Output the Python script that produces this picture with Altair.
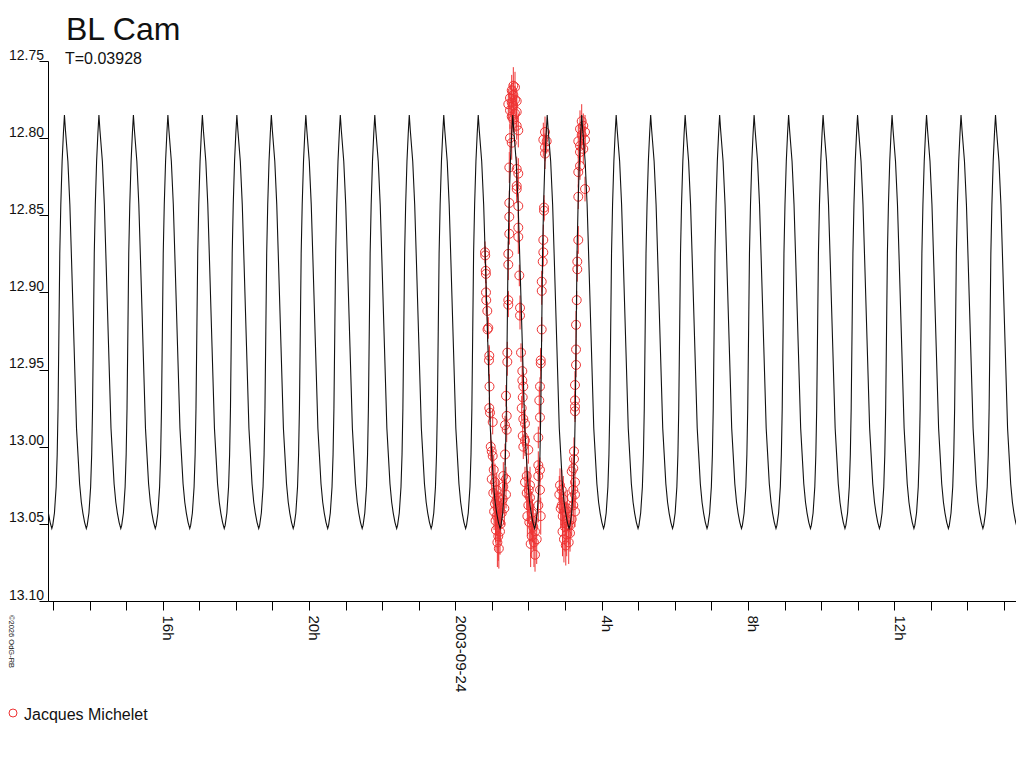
import altair as alt
import pandas as pd

FONT = "Liberation Sans"
RED = "#ee3333"
INK = "#111111"

STAR = "BL Cam"
PERIOD_LABEL = "T=0.03928"
PERIOD_DAYS = 0.03928
OBSERVER = "Jacques Michelet"
CREDIT = "\u00a92026 OdG-RB"
DATE_LABEL = "2003-09-24"

# Model light curve: one cycle (phase 0 = maximum light)
tpl_phase = [0.000, 0.030, 0.100, 0.157, 0.206, 0.280, 0.350, 0.390, 0.440, 0.490,
             0.535, 0.585, 0.634, 0.660, 0.710, 0.760, 0.790, 0.815, 0.840, 0.865,
             0.895, 0.933, 0.970]
tpl_mag = [12.785, 12.795, 12.815, 12.843, 12.879, 12.935, 12.988, 13.004, 13.024, 13.036,
           13.043, 13.049, 13.053, 13.051, 13.043, 13.026, 13.005, 12.975, 12.925, 12.875,
           12.843, 12.815, 12.797]
MAX_EPOCH_H = 0.627          # a maximum, hours after 2003-09-24 00:00 UT
CYCLES = list(range(-13, 17))

# Observations (hours after 2003-09-24 00:00 UT, magnitude, error)
obs_time = [
    # cycle A: falling branch and minimum
    0.812, 0.818, 0.831, 0.836, 0.839, 0.846, 0.875, 0.880, 0.902, 0.921,
    0.929, 0.935, 0.929, 0.949, 0.968, 0.995, 1.022, 1.022, 0.995, 1.039,
    1.085, 1.085, 1.113, 1.132, 1.132, 1.175, 1.175, 1.203, 1.222, 1.222,
    1.268, 1.060, 1.100, 1.150, 1.190, 1.240, 1.160, 1.050, 1.120,
    # cycle A: rising branch
    1.296, 1.312, 1.312, 1.340, 1.359, 1.359, 1.386, 1.386, 1.386, 1.405,
    1.405, 1.422, 1.422, 1.449, 1.449, 1.449, 1.449, 1.476, 1.476, 1.476,
    1.476, 1.495, 1.542,
    # maximum
    1.449, 1.495, 1.495, 1.542, 1.542, 1.542, 1.586, 1.586, 1.586, 1.586,
    1.632, 1.632, 1.632, 1.678, 1.678, 1.678, 1.722,
    # cycle B: falling branch and minimum
    1.678, 1.722, 1.678, 1.678, 1.722, 1.722, 1.722, 1.750, 1.769, 1.769,
    1.796, 1.832, 1.832, 1.859, 1.843, 1.815, 1.859, 1.905, 1.843, 1.905,
    1.859, 1.996, 1.952, 1.905, 2.042, 1.952, 2.042, 1.996, 2.089, 2.023,
    2.132, 2.089, 2.179, 2.225, 2.179, 1.970, 2.060, 2.110, 2.150, 2.010,
    # cycle B: rising branch
    2.269, 2.335, 2.315, 2.269, 2.315, 2.269, 2.269, 2.315, 2.296, 2.315,
    2.335, 2.335, 2.362, 2.362, 2.362, 2.389, 2.406, 2.406, 2.425, 2.425,
    2.452, 2.452, 2.498, 2.406, 2.452,
    # cycle C: minimum
    2.843, 2.862, 2.909, 2.909, 2.936, 2.952, 2.999, 2.999, 3.045, 3.045,
    3.089, 3.136, 2.880, 2.970, 3.020, 3.100, 2.930, 3.060,
    # cycle C: rising branch and maximum
    3.136, 3.182, 3.182, 3.182, 3.226, 3.226, 3.226, 3.245, 3.245, 3.272,
    3.272, 3.272, 3.272, 3.272, 3.272, 3.272, 3.300, 3.300, 3.300, 3.319,
    3.335, 3.335, 3.362, 3.362, 3.362, 3.362, 3.409, 3.409, 3.409, 3.409,
    3.455, 3.455, 3.499, 3.499, 3.546, 3.546, 3.546,
]
obs_mag = [
    12.874, 12.876, 12.886, 12.888, 12.900, 12.905, 12.912, 12.924, 12.923, 12.944,
    12.941, 12.961, 12.975, 12.978, 13.000, 13.003, 12.984, 13.006, 13.021, 13.030,
    13.023, 13.037, 13.054, 13.028, 13.045, 13.033, 13.058, 13.049, 13.040, 13.055,
    13.043, 13.042, 13.048, 13.062, 13.066, 13.050, 13.040, 13.015, 13.035,
    13.034, 13.026, 13.019, 13.040, 13.005, 12.986, 13.021, 13.031, 12.967, 12.989,
    12.980, 12.945, 12.939, 12.908, 12.905, 12.882, 12.875, 12.862, 12.851, 12.842,
    12.819, 12.800, 12.803,
    12.778, 12.782, 12.774, 12.786, 12.777, 12.769, 12.766, 12.772, 12.779, 12.788,
    12.767, 12.775, 12.784, 12.776, 12.783, 12.792, 12.795,
    12.820, 12.823, 12.831, 12.833, 12.844, 12.858, 12.864, 12.889, 12.910, 12.915,
    12.939, 12.951, 12.957, 12.961, 12.968, 12.975, 12.982, 12.985, 12.993, 12.996,
    13.000, 13.002, 13.019, 13.023, 13.025, 13.030, 13.033, 13.038, 13.043, 13.049,
    13.052, 13.058, 13.055, 13.060, 13.070, 13.045, 13.063, 13.048, 13.062, 13.028,
    13.038, 13.045, 13.028, 13.019, 13.015, 13.012, 12.994, 12.981, 12.970, 12.961,
    12.946, 12.944, 12.924, 12.899, 12.893, 12.880, 12.874, 12.866, 12.847, 12.845,
    12.810, 12.806, 12.802, 12.801, 12.796,
    13.031, 13.025, 13.028, 13.038, 13.045, 13.034, 13.042, 13.052, 13.048, 13.057,
    13.051, 13.056, 13.040, 13.060, 13.064, 13.062, 13.055, 13.040,
    13.051, 13.047, 13.033, 13.016, 13.028, 13.038, 13.014, 13.003, 13.008, 13.042,
    13.031, 13.023, 12.977, 12.974, 12.970, 12.960, 12.947, 12.937, 12.921, 12.905,
    12.885, 12.880, 12.866, 12.838, 12.822, 12.802, 12.818, 12.809, 12.805, 12.794,
    12.798, 12.789, 12.807, 12.792, 12.801, 12.796, 12.833,
]
obs_err = [
    0.007, 0.006, 0.008, 0.006, 0.007, 0.009, 0.006, 0.008, 0.007, 0.010,
    0.006, 0.008, 0.007, 0.006, 0.009, 0.007, 0.008, 0.006, 0.010, 0.009,
    0.012, 0.010, 0.014, 0.011, 0.013, 0.012, 0.016, 0.013, 0.011, 0.015,
    0.010, 0.012, 0.014, 0.016, 0.013, 0.012, 0.011, 0.009, 0.012,
    0.010, 0.008, 0.009, 0.011, 0.007, 0.006, 0.008, 0.009, 0.007, 0.008,
    0.006, 0.009, 0.007, 0.008, 0.006, 0.010, 0.008, 0.007, 0.009, 0.008,
    0.010, 0.009, 0.011,
    0.010, 0.012, 0.009, 0.011, 0.013, 0.010, 0.012, 0.009, 0.011, 0.008,
    0.010, 0.009, 0.012, 0.008, 0.010, 0.009, 0.011,
    0.008, 0.010, 0.007, 0.009, 0.008, 0.010, 0.011, 0.007, 0.008, 0.009,
    0.006, 0.010, 0.008, 0.009, 0.007, 0.008, 0.006, 0.009, 0.007, 0.010,
    0.008, 0.009, 0.011, 0.010, 0.012, 0.011, 0.013, 0.012, 0.014, 0.013,
    0.015, 0.014, 0.012, 0.016, 0.011, 0.013, 0.015, 0.014, 0.016, 0.012,
    0.011, 0.012, 0.009, 0.010, 0.008, 0.009, 0.007, 0.008, 0.009, 0.006,
    0.010, 0.007, 0.008, 0.009, 0.007, 0.008, 0.009, 0.010, 0.007, 0.008,
    0.010, 0.009, 0.008, 0.011, 0.010,
    0.012, 0.011, 0.013, 0.014, 0.012, 0.015, 0.013, 0.016, 0.012, 0.014,
    0.013, 0.012, 0.011, 0.015, 0.013, 0.014, 0.016, 0.012,
    0.012, 0.011, 0.010, 0.009, 0.011, 0.012, 0.008, 0.009, 0.007, 0.010,
    0.009, 0.008, 0.007, 0.008, 0.006, 0.009, 0.008, 0.007, 0.009, 0.006,
    0.008, 0.007, 0.009, 0.008, 0.010, 0.011, 0.009, 0.008, 0.010, 0.012,
    0.009, 0.011, 0.010, 0.008, 0.009, 0.011, 0.008,
]
assert len(obs_time) == len(obs_mag) == len(obs_err)

X_DOMAIN = [-11.135, 15.328]            # 2003-09-23 12:52 .. 2003-09-24 15:20 UT
Y_DOMAIN = [12.75, 13.10]
Y_TICKS = [12.75, 12.80, 12.85, 12.90, 12.95, 13.00, 13.05, 13.10]
HOUR_TICKS = list(range(-11, 16))

# ---- tables ----
period_h = PERIOD_DAYS * 24.0
curve_rows = []
for n in CYCLES:
    for p, m in zip(tpl_phase, tpl_mag):
        curve_rows.append({"t": MAX_EPOCH_H + (n + p) * period_h, "mag": m})
curve = pd.DataFrame(curve_rows).sort_values("t")

obs = pd.DataFrame({"t": obs_time, "mag": obs_mag, "err": obs_err})
obs["lo"] = obs["mag"] - obs["err"]
obs["hi"] = obs["mag"] + obs["err"]

# ---- scales / axes ----
x_scale = alt.Scale(domain=X_DOMAIN, nice=False, zero=False)
y_scale = alt.Scale(domain=Y_DOMAIN, reverse=True, nice=False, zero=False)

label_expr = (
    f"datum.value == 0 ? '{DATE_LABEL}' : "
    "(datum.value % 4 == 0 ? ((datum.value + 24) % 24) + 'h' : '')"
)
x_axis = alt.Axis(
    values=HOUR_TICKS, labelExpr=label_expr, title=None, grid=False,
    labelAngle=90, labelAlign="left", labelBaseline="alphabetic",
    tickSize=9, labelPadding=5, labelFont=FONT, labelFontSize=15, labelColor=INK,
    domainColor="#000000", tickColor="#000000", labelOverlap=False,
    labelFlush=False, labelBound=False,
)
y_axis = alt.Axis(
    values=Y_TICKS, format=".2f", title=None, grid=False,
    tickSize=9, labelPadding=-4.5, labelAlign="right", labelBaseline="alphabetic",
    labelOffset=-2, labelFont=FONT, labelFontSize=14, labelColor=INK,
    domainColor="#000000", tickColor="#000000", labelOverlap=False,
    labelFlush=False, labelBound=False,
)

X = alt.X("t:Q", scale=x_scale, axis=x_axis)
Y = alt.Y("mag:Q", scale=y_scale, axis=y_axis)

bars = alt.Chart(obs).mark_rule(color=RED, strokeWidth=1).encode(
    x=X, y=alt.Y("lo:Q", scale=y_scale, axis=y_axis), y2="hi:Q"
)
points = alt.Chart(obs).mark_point(
    shape="circle", filled=False, color=RED, size=80, strokeWidth=1, opacity=1
).encode(x=X, y=Y)
model = alt.Chart(curve).mark_line(color=INK, strokeWidth=1.1, clip=True).encode(
    x=X, y=Y, order="t:Q"
)


def text_layer(text, x, y, size, **kw):
    return alt.Chart(pd.DataFrame({"s": [text]})).mark_text(
        align="left", baseline="alphabetic", font=FONT, fontSize=size, color=INK, **kw
    ).encode(text="s:N", x=alt.value(x), y=alt.value(y))


title = text_layer(STAR, 18, -21, 32)
subtitle = text_layer(PERIOD_LABEL, 17, 3, 16)
legend_text = text_layer(OBSERVER, -24, 659, 16)
credit = text_layer(CREDIT, -39, 554, 7.5, angle=90)
legend_mark = alt.Chart(pd.DataFrame({"s": [OBSERVER]})).mark_point(
    shape="circle", filled=False, color=RED, size=64, strokeWidth=1, opacity=1
).encode(x=alt.value(-35), y=alt.value(652))

chart = alt.layer(
    bars, points, model, title, subtitle, legend_mark, legend_text, credit
).properties(
    width=968,
    height=540,
    padding={"left": 40, "top": 53, "right": 0, "bottom": 129},
    autosize=alt.AutoSizeParams(type="none"),
).configure_view(stroke=None)

chart.save("out.html", embed_options={"renderer": "svg", "actions": False})
